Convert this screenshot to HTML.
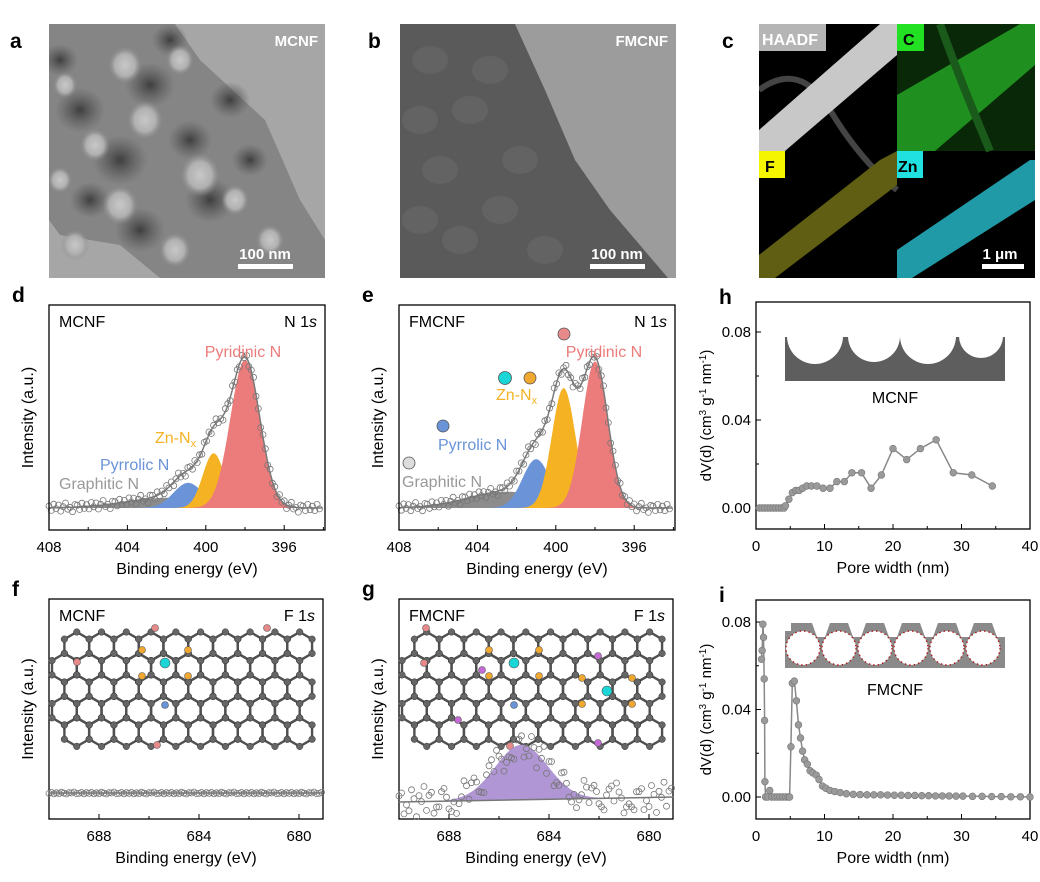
<!DOCTYPE html>
<html><head><meta charset="utf-8"><style>
html,body{margin:0;padding:0;background:#fff;}
svg{display:block;font-family:"Liberation Sans",Arial,sans-serif;}
</style></head><body>
<svg id="fig" width="1040" height="882" viewBox="0 0 1040 882" xmlns="http://www.w3.org/2000/svg">
<defs>
<radialGradient id="hole" cx="50%" cy="50%" r="50%"><stop offset="0" stop-color="#c8c8c8"/><stop offset="0.6" stop-color="#b0b0b0"/><stop offset="1" stop-color="#8a8a8a" stop-opacity="0"/></radialGradient>
<radialGradient id="dark" cx="50%" cy="50%" r="50%"><stop offset="0" stop-color="#3e3e3e"/><stop offset="1" stop-color="#555" stop-opacity="0"/></radialGradient>
<clipPath id="ca"><rect x="49" y="24" width="276" height="254"/></clipPath>
<clipPath id="cb"><rect x="400" y="24" width="276" height="254"/></clipPath>
<clipPath id="cc"><rect x="759" y="24" width="276" height="254"/></clipPath>
</defs>

<!-- Panel a TEM -->
<g clip-path="url(#ca)">
<rect x="49" y="24" width="276" height="254" fill="#a6a6a6"/>
<polygon points="49,24 175,24 200,60 265,120 300,200 325,240 325,278 160,278 120,245 60,235 49,220" fill="#858585"/>
<g id="adark"></g>
<g id="aholes"></g>
</g>
<text x="10" y="48" font-size="21" font-weight="bold">a</text>
<text x="318" y="46" font-size="15" font-weight="bold" fill="#fff" text-anchor="end">MCNF</text>
<text x="265" y="259" font-size="15" font-weight="bold" fill="#fff" text-anchor="middle">100 nm</text>
<rect x="238" y="264" width="55" height="5" fill="#fff"/>

<!-- Panel b TEM -->
<g clip-path="url(#cb)">
<rect x="400" y="24" width="276" height="254" fill="#9c9c9c"/>
<polygon points="400,24 515,24 545,90 575,160 610,210 668,278 400,278" fill="#5a5a5a"/>
<g id="bnoise"></g>
</g>
<text x="368" y="48" font-size="21" font-weight="bold">b</text>
<text x="668" y="46" font-size="15" font-weight="bold" fill="#fff" text-anchor="end">FMCNF</text>
<text x="617" y="259" font-size="15" font-weight="bold" fill="#fff" text-anchor="middle">100 nm</text>
<rect x="590" y="264" width="55" height="5" fill="#fff"/>

<!-- Panel c EDS maps -->
<g clip-path="url(#cc)">
<rect x="759" y="24" width="276" height="254" fill="#000"/>
<g>
<path d="M759,90 Q800,60 830,110 T897,190" stroke="#444" stroke-width="6" fill="none"/>
<polygon points="759,130 880,24 897,24 897,55 785,151 759,151" fill="#c8c8c8"/>
</g>
<g>
<rect x="897" y="24" width="138" height="127" fill="#082808"/>
<polygon points="897,95 1020,24 1035,24 1035,65 935,151 897,151" fill="#1f8f1f"/>
<path d="M940,24 Q960,80 990,151" stroke="#1a5a1a" stroke-width="8" fill="none"/>
</g>
<g>
<polygon points="759,255 880,160 897,151 897,185 775,278 759,278" fill="#5f5e12"/>
</g>
<g>
<polygon points="897,250 1030,160 1035,160 1035,200 912,278 897,278" fill="#1f9aa6"/>
</g>
</g>
<rect x="759" y="24" width="67" height="27" fill="#b5b5b5"/>
<text x="762" y="45" font-size="16" font-weight="bold" fill="#fff">HAADF</text>
<rect x="897" y="24" width="27" height="27" fill="#22e022"/>
<text x="903" y="45" font-size="16" font-weight="bold" fill="#000">C</text>
<rect x="759" y="151" width="26" height="27" fill="#f5f500"/>
<text x="765" y="172" font-size="16" font-weight="bold" fill="#000">F</text>
<rect x="897" y="151" width="26" height="27" fill="#20e0e0"/>
<text x="898" y="172" font-size="16" font-weight="bold" fill="#000">Zn</text>
<text x="1000" y="259" font-size="15" font-weight="bold" fill="#fff" text-anchor="middle">1 μm</text>
<rect x="982" y="264" width="42" height="5" fill="#fff"/>
<text x="722" y="48" font-size="21" font-weight="bold">c</text>

<g id="charts"></g>
</svg>
<script>
// ---- Data ----
const dCenters=[398.0,399.6,400.9,401.8];
const dHeights=[1.0,0.37,0.17,0.07];
const dSigmas=[0.75,0.55,0.75,2.2];
const eCenters=[398.0,399.6,401.0,402.5];
const eHeights=[0.99,0.81,0.33,0.11];
const eSigmas=[0.65,0.6,0.7,2.0];
const nLabels=['Pyridinic N','Zn-N','Pyrrolic N','Graphitic N'];
const nColors=['#ec7b7b','#f5b223','#6a93d8','#8c8c8c'];
const gPeakCenter=[685.1];
const gPeakHeight=[1.0];
const gPeakSigma=[1.05];
const jitter=[0.02,-0.03,0.04,-0.01,0.03,-0.04,0.01,0.05,-0.02,0.0,-0.05,0.03,0.02,-0.03,0.04,-0.02];
const hX=[0.5,0.9,1.3,1.7,2.1,2.5,2.9,3.3,3.7,4.1,4.3,4.8,5.3,5.8,6.3,6.8,7.4,8.1,8.9,9.8,10.8,11.8,12.9,14.0,15.4,16.8,18.3,20.0,22.0,24.0,26.3,28.8,31.5,34.5];
const hY=[0,0,0,0,0,0,0,0,0,0,0.001,0.004,0.007,0.008,0.008,0.009,0.010,0.010,0.010,0.009,0.009,0.012,0.012,0.016,0.016,0.009,0.015,0.027,0.022,0.027,0.031,0.016,0.015,0.010];
const iX=[0.8,0.9,1.0,1.1,1.2,1.25,1.3,1.4,1.7,2.0,2.3,2.7,3.1,3.5,3.9,4.3,4.7,4.9,5.1,5.3,5.6,5.9,6.2,6.5,6.8,7.1,7.5,7.9,8.3,8.8,9.2,9.7,10.2,10.8,11.5,12.3,13.2,14.2,15.2,16.2,17.2,18.2,19.2,20.2,21.2,22.2,23.2,24.2,25.2,26.2,27.2,28.2,29.2,30.2,31.6,33.0,34.4,35.8,37.2,38.6,40.0];
const iY=[0.063,0.067,0.079,0.073,0.054,0.035,0.007,0,0,0.003,0,0,0,0,0,0,0,0,0.023,0.052,0.053,0.044,0.033,0.027,0.021,0.017,0.015,0.012,0.011,0.010,0.008,0.005,0.004,0.003,0.0025,0.002,0.0015,0.0012,0.0011,0.001,0.001,0.001,0.0009,0.0008,0.0008,0.0007,0.0007,0.0006,0.0006,0.0005,0.0005,0.0005,0.0004,0.0004,0.0003,0.0003,0.0002,0.0002,0.0001,0.0001,0];
const nTicks=[408,404,400,396];
const fTicks=[688,684,680];
const poreTicks=[0,10,20,30,40];
const dvTicks=[0,0.04,0.08];
const dvTickLabels=['0.00','0.04','0.08'];

const NS='http://www.w3.org/2000/svg';
const root=document.getElementById('charts');
function el(tag,attrs,parent){const e=document.createElementNS(NS,tag);for(const k in attrs)e.setAttribute(k,attrs[k]);(parent||root).appendChild(e);return e;}
function txt(x,y,s,size,extra,parent){const t=el('text',Object.assign({x:x,y:y,'font-size':size},extra||{}),parent);t.textContent=s;return t;}

// TEM decoration
(function(){
 const gd=document.getElementById('adark');
 const darks=[[80,110,25],[150,85,25],[120,160,28],[190,140,22],[210,200,25],[140,230,25],[90,200,20],[230,100,20],[60,60,18],[170,40,18],[250,160,18]];
 darks.forEach(h=>el('ellipse',{cx:h[0],cy:h[1],rx:h[2],ry:h[2]*0.9,fill:'url(#dark)'},gd));
 const g=document.getElementById('aholes');
 const holes=[[125,65,17],[180,60,14],[145,120,18],[95,145,15],[200,175,20],[120,205,18],[235,200,14],[175,250,16],[75,245,14],[270,240,14],[65,85,12],[60,180,12]];
 holes.forEach(h=>el('ellipse',{cx:h[0],cy:h[1],rx:h[2],ry:h[2]*1.1,fill:'url(#hole)'},g));
 const b=document.getElementById('bnoise');
 const spots=[[430,60],[470,110],[440,170],[500,210],[520,160],[460,240],[420,220],[545,250],[490,70],[420,120]];
 spots.forEach(s=>el('ellipse',{cx:s[0],cy:s[1],rx:18,ry:14,fill:'#6e6e6e',opacity:0.45},b));
})();

function frame(name,x0,y0,x1,y1){el('rect',{x:x0,y:y0,width:x1-x0,height:y1-y0,fill:'none',stroke:'#000','stroke-width':1.3,});}

function nPanel(key,X0,letter,sample,centers,heights,sigmas){
 const x0=X0,x1=X0+276,y0=305,y1=530;
 const sx=v=>x0+(408-v)*19.6;
 const base=508, amp=148;
 const sy=v=>base-v*amp;
 const g=el('g',{});
 
 
 const gauss=(e,i)=>heights[i]*Math.exp(-0.5*Math.pow((e-centers[i])/sigmas[i],2));
 [3,2,1,0].forEach(i=>{
   let d='M'+sx(408)+','+base;
   for(let e=408;e>=394.0;e-=0.05){d+=' L'+sx(e).toFixed(1)+','+sy(gauss(e,i)).toFixed(1);}
   d+=' L'+sx(394)+','+base+' Z';
   const p=el('path',{d:d,fill:nColors[i]},g);
   
   
 });
 const env=e=>{let s=0;for(let i=0;i<4;i++)s+=gauss(e,i);return s;};
 let d='';
 for(let e=408;e>=394.0;e-=0.05){d+=(d?' L':'M')+sx(e).toFixed(1)+','+sy(env(e)).toFixed(1);}
 const ln=el('path',{d:d,fill:'none',stroke:'#7a7a7a','stroke-width':1.5},g);
 
 
 let k=0;
 for(let e=408;e>=394.1;e-=0.12){
   const c=el('circle',{cx:sx(e).toFixed(1),cy:(sy(env(e)+jitter[k%jitter.length]*0.6)).toFixed(1),r:3,fill:'none',stroke:'#777','stroke-width':0.8},g);
   
   
   k++;
 }
 frame(key+'-plot-frame',x0,y0,x1,y1);
 nTicks.forEach(t=>{el('line',{x1:sx(t),x2:sx(t),y1:y1,y2:y1-5,stroke:'#000'});txt(sx(t),y1+22,String(t),15,{'text-anchor':'middle'});});
 [406,402,398,394].forEach(t=>{if(sx(t)<x1)el('line',{x1:sx(t),x2:sx(t),y1:y1,y2:y1-3,stroke:'#000'});});
 txt((x0+x1)/2,y1+44,'Binding energy (eV)',16,{'text-anchor':'middle',});
 txt(0,0,'Intensity (a.u.)',16,{'text-anchor':'middle',transform:'translate('+(x0-16)+','+((y0+y1)/2)+') rotate(-90)',});
 txt(x0-37,y0-3,letter,21,{'font-weight':'bold',});
 txt(x0+10,y0+22,sample,16,{});
 const t=txt(x1-8,y0+22,'N 1',16,{'text-anchor':'end',});
 const ts=document.createElementNS(NS,'tspan');ts.setAttribute('font-style','italic');ts.textContent='s';t.appendChild(ts);
 return {sx:sx,sy:sy,x0:x0,x1:x1};
}
const d=nPanel('mcnf',49,'d','MCNF',dCenters,dHeights,dSigmas);
txt(243,357,'Pyridinic N',16,{'text-anchor':'middle',fill:nColors[0],});
(function(){const t=txt(155,443,'Zn-N',16,{fill:nColors[1],});const s=document.createElementNS(NS,'tspan');s.setAttribute('font-size','11');s.setAttribute('dy','4');s.textContent='x';t.appendChild(s);})();
txt(100,470,'Pyrrolic N',16,{fill:nColors[2],});
txt(59,489,'Graphitic N',16,{fill:'#999',});

const e=nPanel('fmcnf',399,'e','FMCNF',eCenters,eHeights,eSigmas);
txt(604,357,'Pyridinic N',16,{'text-anchor':'middle',fill:nColors[0],});
el('circle',{cx:564,cy:334,r:6,fill:'#e88a8a',stroke:'#555','stroke-width':0.8,});
el('circle',{cx:505,cy:378,r:6.5,fill:'#1ad6d6',stroke:'#555','stroke-width':0.8,});
el('circle',{cx:530,cy:378,r:6,fill:'#f0a830',stroke:'#555','stroke-width':0.8,});
(function(){const t=txt(496,400,'Zn-N',16,{fill:nColors[1],});const s=document.createElementNS(NS,'tspan');s.setAttribute('font-size','11');s.setAttribute('dy','4');s.textContent='x';t.appendChild(s);})();
el('circle',{cx:443,cy:426,r:6,fill:'#6a93d8',stroke:'#555','stroke-width':0.8,});
txt(438,450,'Pyrrolic N',16,{fill:nColors[2],});
el('circle',{cx:409,cy:463,r:6,fill:'#ddd',stroke:'#555','stroke-width':0.8,});
txt(402,487,'Graphitic N',16,{fill:'#999',});

function lattice(x0,y0,special){
 const a=14.3, w=Math.sqrt(3)*a;
 const g=el('g',{});
 
 
 const atoms=[];
 for(let r=0;r<5;r++){for(let c=0;c<11;c++){
   const cx=x0+c*w+(r%2?w/2:0)-(r%2?w:0), cy=y0+a+r*1.5*a;
   const pts=[];for(let k=0;k<6;k++){const ang=Math.PI/180*(60*k-30);pts.push([cx+a*Math.cos(ang),cy+a*Math.sin(ang)]);}
   if(cx-w/2<x0-2||cx+w/2>x0+11*w+2)continue;
   el('polygon',{points:pts.map(p=>p.join(',')).join(' '),fill:'none',stroke:'#505050','stroke-width':2.4},g);
   pts.forEach(p=>atoms.push(p));
 }}
 atoms.forEach(p=>el('circle',{cx:p[0],cy:p[1],r:3.3,fill:'#666',stroke:'#333','stroke-width':0.5},g));
 special.forEach(s=>el('circle',{cx:x0+s[0],cy:y0+s[1],r:s[3]||3.5,fill:s[2],stroke:'#555','stroke-width':0.6},g));
}
function fPanel(key,X0,letter,sample){
 const x0=X0,x1=X0+274,y0=599,y1=819;
 const sx=v=>x0+(690-v)*25;
 frame(key+'-plot-frame',x0,y0,x1,y1);
 fTicks.forEach(t=>{el('line',{x1:sx(t),x2:sx(t),y1:y1,y2:y1-5,stroke:'#000'});txt(sx(t),y1+22,String(t),15,{'text-anchor':'middle'});});
 [686,682].forEach(t=>el('line',{x1:sx(t),x2:sx(t),y1:y1,y2:y1-3,stroke:'#000'}));
 txt((x0+x1)/2,y1+44,'Binding energy (eV)',16,{'text-anchor':'middle',});
 txt(0,0,'Intensity (a.u.)',16,{'text-anchor':'middle',transform:'translate('+(x0-16)+','+((y0+y1)/2)+') rotate(-90)',});
 txt(x0-37,y0-3,letter,21,{'font-weight':'bold',});
 txt(x0+10,y0+22,sample,16,{});
 const t=txt(x1-8,y0+22,'F 1',16,{'text-anchor':'end',});
 const ts=document.createElementNS(NS,'tspan');ts.setAttribute('font-style','italic');ts.textContent='s';t.appendChild(ts);
 return sx;
}
const fsx=fPanel('mcnf-f',49,'f','MCNF');
lattice(52,632,[[103,-4,'#e88a8a'],[25,30,'#e88a8a'],[113,31,'#1ad6d6',5],[90,18,'#f0a830'],[136,18,'#f0a830'],[90,44,'#f0a830'],[136,44,'#f0a830'],[113,73,'#6a93d8'],[215,-4,'#e88a8a'],[105,113,'#e88a8a']]);
(function(){
 const g=el('g',{});
 el('line',{x1:49,x2:323,y1:793,y2:793,stroke:'#777','stroke-width':1.5},g);
 let k=0;for(let v=690;v>=679;v-=0.1){const c=el('circle',{cx:fsx(v),cy:793+jitter[k%16]*20,r:3,fill:'none',stroke:'#777','stroke-width':0.8},g);k++;}
})();
const gsx=fPanel('fmcnf-f',399,'g','FMCNF');
lattice(402,632,[[24,-4,'#e88a8a'],[22,31,'#e88a8a'],[80,38,'#c36ad6'],[112,31,'#1ad6d6',5],[87,18,'#f0a830'],[137,18,'#f0a830'],[87,44,'#f0a830'],[137,44,'#f0a830'],[112,73,'#6a93d8'],[205,59,'#1ad6d6',5],[180,46,'#f0a830'],[230,46,'#f0a830'],[180,72,'#f0a830'],[230,72,'#f0a830'],[196,24,'#c36ad6'],[56,88,'#c36ad6'],[196,111,'#c36ad6'],[108,114,'#e88a8a']]);
(function(){
 const g=el('g',{});
 const bl=v=>802-(690-v)*0.45;
 const pk=v=>gPeakHeight[0]*Math.exp(-0.5*Math.pow((v-gPeakCenter[0])/gPeakSigma[0],2));
 let dd='M'+gsx(690)+','+bl(690);
 for(let v=690;v>=679;v-=0.05)dd+=' L'+gsx(v).toFixed(1)+','+(bl(v)-pk(v)*55).toFixed(1);
 dd+=' L'+gsx(679)+','+bl(679)+' Z';
 el('path',{d:dd,fill:'#b096d4'},g);
 el('line',{x1:gsx(690),x2:gsx(679),y1:bl(690),y2:bl(679),stroke:'#777','stroke-width':1.5},g);
 let k=0;for(let v=690;v>=679;v-=0.1){const c=el('circle',{cx:gsx(v),cy:(bl(v)-pk(v)*55+jitter[k%16]*300*((k%3)?1:-1)).toFixed(1),r:3,fill:'none',stroke:'#777','stroke-width':0.8},g);k++;}
})();

function porePanel(key,letter,y0,y1,zeroY,perUnit,xs,ys){
 const x0=756,x1=1030;
 const sx=v=>x0+v*6.85;
 const sy=v=>zeroY-v*perUnit;
 frame(key+'-plot-frame',x0,y0,x1,y1);
 poreTicks.forEach(t=>{el('line',{x1:sx(t),x2:sx(t),y1:y1,y2:y1-5,stroke:'#000'});txt(sx(t),y1+22,String(t),15,{'text-anchor':'middle'});});
 [5,15,25,35].forEach(t=>el('line',{x1:sx(t),x2:sx(t),y1:y1,y2:y1-3,stroke:'#000'}));
 dvTicks.forEach((t,i)=>{el('line',{x1:x0,x2:x0+5,y1:sy(t),y2:sy(t),stroke:'#000'});txt(x0-5,sy(t)+5,dvTickLabels[i],15,{'text-anchor':'end'});});
 [0.02,0.06].forEach(t=>el('line',{x1:x0,x2:x0+3,y1:sy(t),y2:sy(t),stroke:'#000'}));
 txt((x0+x1)/2,y1+44,'Pore width (nm)',16,{'text-anchor':'middle',});
 const yt=txt(0,0,'dV(d) (cm',15,{'text-anchor':'middle',transform:'translate('+(x0-45)+','+((y0+y1)/2)+') rotate(-90)',});
 [['3',-5],[' g',5],['-1',-5],[' nm',5],['-1',-5],[')',5]].forEach(p=>{const s=document.createElementNS(NS,'tspan');if(p[0].match(/^[-0-9]/)){s.setAttribute('font-size','10');}s.setAttribute('dy',p[1]);s.textContent=p[0];yt.appendChild(s);});
 txt(x0-37,y0+2,letter,21,{'font-weight':'bold',});
 const g=el('g',{});
 el('polyline',{points:xs.map((v,i)=>sx(v).toFixed(1)+','+sy(ys[i]).toFixed(1)).join(' '),fill:'none',stroke:'#888','stroke-width':1.5},g);
 xs.forEach((v,i)=>{const c=el('circle',{cx:sx(v),cy:sy(ys[i]),r:3.4,fill:'#9a9a9a',stroke:'#777','stroke-width':0.6},g);});
}
porePanel('mcnf-pore','h',302,529,508,2200,hX,hY);
porePanel('fmcnf-pore','i',600,819,797,2187,iX,iY);
(function(){
 const g=el('g',{});
 el('rect',{x:785,y:337,width:220,height:44,fill:'#5e5e5e'},g);
 [[815,28],[874,26],[928,28],[981,22]].forEach(c=>el('circle',{cx:c[0],cy:336,r:c[1],fill:'#fff'},g));
 el('rect',{x:780,y:318,width:230,height:19,fill:'#fff'},g);
 txt(895,403,'MCNF',16,{'text-anchor':'middle',});
})();
(function(){
 const g=el('g',{});
 el('rect',{x:785,y:623,width:220,height:45,fill:'#8a8a8a'},g);
 for(let k=0;k<6;k++){const cx=803+k*36;
  el('circle',{cx:cx,cy:648,r:17,fill:'#fff',stroke:'#b01818','stroke-width':1.4,'stroke-dasharray':'1.5,3'},g);
  el('polygon',{points:(cx+9)+',623 '+(cx+27)+',623 '+(cx+22)+',637 '+(cx+14)+',637',fill:'#fff'},g);}
 el('rect',{x:785,y:623,width:6,height:8,fill:'#fff'},g);
 txt(895,695,'FMCNF',16,{'text-anchor':'middle',});
})();
</script>
</body></html>
